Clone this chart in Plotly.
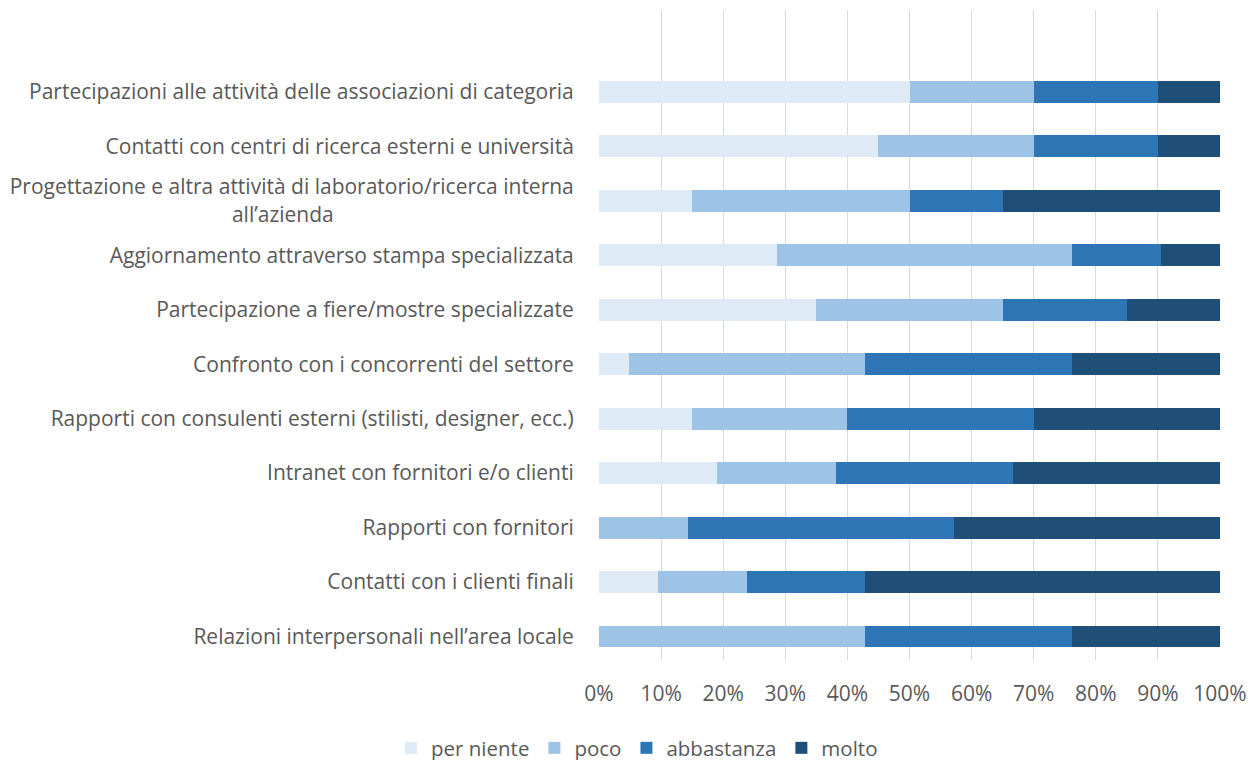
import plotly.graph_objects as go

categories = [
    "Partecipazioni alle attività delle associazioni di categoria",
    "Contatti con centri di ricerca esterni e università",
    "Progettazione e altra attività di laboratorio/ricerca interna<br>all’azienda" + "&nbsp;" * 44,
    "Aggiornamento attraverso stampa specializzata",
    "Partecipazione a fiere/mostre specializzate",
    "Confronto con i concorrenti del settore",
    "Rapporti con consulenti esterni (stilisti, designer, ecc.)",
    "Intranet con fornitori e/o clienti",
    "Rapporti con fornitori",
    "Contatti con i clienti finali",
    "Relazioni interpersonali nell’area locale",
]

per_niente = [50.0, 45.0, 15.0, 28.6, 35.0, 4.8, 15.0, 19.0, 0.0, 9.5, 0.0]
poco = [20.0, 25.0, 35.0, 47.6, 30.0, 38.1, 25.0, 19.1, 14.3, 14.3, 42.9]
abbastanza = [20.0, 20.0, 15.0, 14.3, 20.0, 33.3, 30.0, 28.6, 42.8, 19.1, 33.3]
molto = [10.0, 10.0, 35.0, 9.5, 15.0, 23.8, 30.0, 33.3, 42.9, 57.1, 23.8]

x_tickvals = [0, 10, 20, 30, 40, 50, 60, 70, 80, 90, 100]
x_ticktext = ["0%", "10%", "20%", "30%", "40%", "50%", "60%", "70%", "80%", "90%", "100%"]

series = [
    ("per niente", per_niente, "#DEEBF7"),
    ("poco", poco, "#9DC3E6"),
    ("abbastanza", abbastanza, "#2E75B6"),
    ("molto", molto, "#1F4E79"),
]

fig = go.Figure()
for name, vals, color in series:
    fig.add_trace(go.Bar(
        y=categories, x=vals, name=name, orientation="h",
        marker=dict(color=color, line=dict(width=0)), width=0.4,
    ))

font_family = "Open Sans, Lato, sans-serif"
fig.update_layout(
    barmode="stack",
    width=1258, height=760,
    margin=dict(l=591, r=46, t=2, b=108, autoexpand=False),
    paper_bgcolor="white", plot_bgcolor="white",
    font=dict(family=font_family, size=21, color="#595959"),
    xaxis=dict(
        range=[0, 100], tickvals=x_tickvals, ticktext=x_ticktext,
        showgrid=True, gridcolor="#D9D9D9", gridwidth=1,
        zeroline=False, showline=False, automargin=False,
        ticks="outside", ticklen=15, tickcolor="rgba(0,0,0,0)",
        tickfont=dict(size=21, color="#595959"),
    ),
    yaxis=dict(
        type="category", categoryorder="array", categoryarray=categories,
        range=[10.43, -1.5], showgrid=False, zeroline=False, showline=False,
        automargin=False,
        ticks="outside", ticklen=20, tickcolor="rgba(0,0,0,0)",
        tickfont=dict(size=21, color="#595959"),
    ),
    legend=dict(
        orientation="h", xref="container", yref="container",
        x=0.5, xanchor="center", y=0.0, yanchor="bottom",
        font=dict(size=20.5, color="#595959"),
        traceorder="normal",
    ),
)

fig.write_html("out.html")
